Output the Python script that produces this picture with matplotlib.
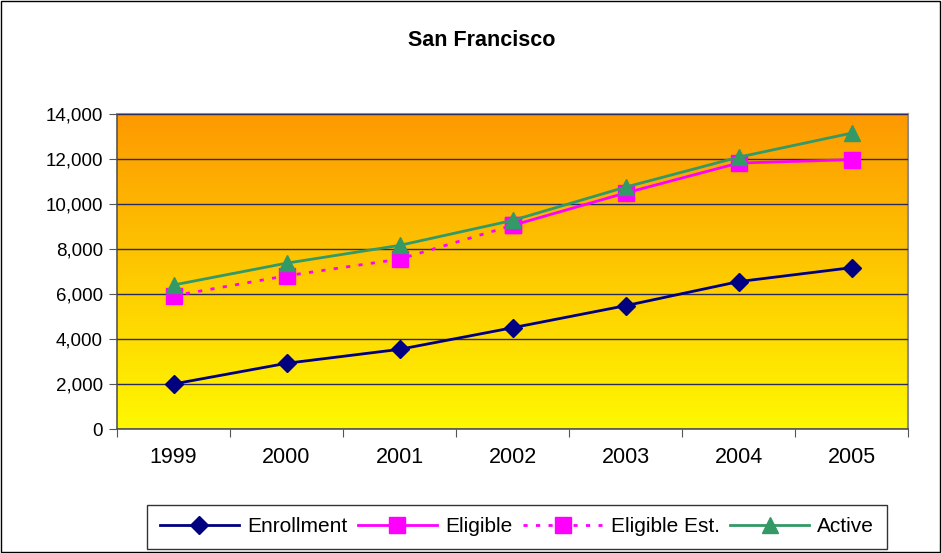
import numpy as np
import matplotlib.pyplot as plt
from matplotlib.colors import LinearSegmentedColormap
from matplotlib.patches import Rectangle

plt.rcParams['font.family'] = ['Liberation Sans', 'DejaVu Sans']

# Datos
years = ['1999', '2000', '2001', '2002', '2003', '2004', '2005']
enrollment = [2000, 2920, 3540, 4500, 5480, 6550, 7170]
eligible_years = ['2002', '2003', '2004', '2005']
eligible = [9050, 10490, 11820, 11970]
eligible_est_years = ['1999', '2000', '2001', '2002']
eligible_est = [5920, 6810, 7550, 9050]
active = [6400, 7370, 8160, 9270, 10750, 12080, 13150]

x = np.arange(1, len(years) + 1)
x_elig = np.array([years.index(y) + 1 for y in eligible_years])
x_est = np.array([years.index(y) + 1 for y in eligible_est_years])

fig = plt.figure(figsize=(9.42, 5.53), dpi=100)
ax = fig.add_axes([117 / 942, 1 - 429 / 553, 791 / 942, 315 / 553])

# Fondo degradado naranja -> amarillo
cmap = LinearSegmentedColormap.from_list('fondo', ['#fff800', '#fd9900'])
grad = np.linspace(0, 1, 256).reshape(-1, 1)
ax.imshow(grad, cmap=cmap, origin='lower', aspect='auto',
          extent=[0.5, 7.5, 0, 14000], zorder=0)

ax.set_xlim(0.5, 7.5)
ax.set_ylim(0, 14000)
ax.set_yticks(np.arange(0, 14001, 2000))
ax.set_yticklabels([f'{v:,}' for v in range(0, 14001, 2000)])
ax.yaxis.grid(True, color='#2b2b5e', linewidth=1.0, zorder=1)
ax.set_axisbelow(False)

# Eje de categorías con marcas entre categorías
ax.set_xticks(np.arange(0.5, 8, 1))
ax.set_xticklabels([])
ax.set_xticks(x, minor=True)
ax.set_xticklabels(years, minor=True)
ax.tick_params(axis='x', which='minor', length=0, pad=13, labelsize=15.5)
ax.tick_params(axis='x', which='major', length=6, color='#555555')
ax.tick_params(axis='y', length=6, color='#555555', labelsize=13.5, pad=4)

for s in ['left', 'bottom']:
    ax.spines[s].set_color('#555555')
    ax.spines[s].set_linewidth(1.2)
for s in ['top', 'right']:
    ax.spines[s].set_color('#8c8c8c')
    ax.spines[s].set_linewidth(1.5)

# Series
ax.plot(x, enrollment, color='#000080', marker='D', markersize=9,
        linewidth=2, label='Enrollment', zorder=3)
ax.plot(x_elig, eligible, color='#ff00ff', marker='s', markersize=11,
        linewidth=2, label='Eligible', zorder=3)
ax.plot(x_est, eligible_est, color='#ff00ff', marker='s', markersize=11,
        linewidth=2, linestyle=(0, (1.5, 3)), label='Eligible Est.', zorder=3)
ax.plot(x, active, color='#339966', marker='^', markersize=11,
        linewidth=2, label='Active', zorder=4)

fig.text(482 / 942, 1 - 40 / 553, 'San Francisco', ha='center', va='center',
         fontsize=15.5, fontweight='bold')

leg = fig.legend(loc='center', bbox_to_anchor=(517 / 942, 1 - 527 / 553),
                 ncol=4, fontsize=15, frameon=True, fancybox=False,
                 edgecolor='black', handlelength=3.8, columnspacing=0.5,
                 handletextpad=0.4, borderpad=0.6, borderaxespad=0)
leg.get_frame().set_linewidth(1.0)

# Marco exterior
fig.patches.append(Rectangle((0.001, 0.001), 0.997, 0.997, transform=fig.transFigure,
                             fill=False, edgecolor='black', linewidth=1.0))

fig.savefig('out.png', dpi=100)
